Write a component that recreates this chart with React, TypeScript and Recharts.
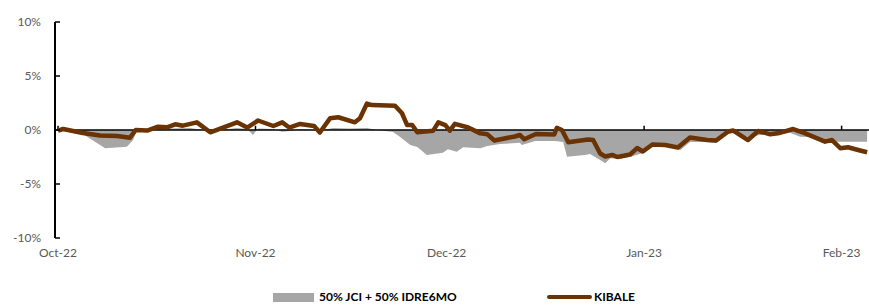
import React from 'react';
import { ComposedChart, Area, Line, XAxis, YAxis, ReferenceLine } from 'recharts';

// x values are calendar days since 1 Oct 2022
const tickDays = [0, 31, 61, 92, 123];
const tickLabels = ['Oct-22', 'Nov-22', 'Dec-22', 'Jan-23', 'Feb-23'];
const yTicks = [-10, -5, 0, 5, 10];
const seriesNames = ['50% JCI + 50% IDRE6MO', 'KIBALE'];

const kibaleDays = [0, 0.8, 3.9, 6.6, 9.3, 11.3, 12.2, 14.0, 15.7, 17.1, 18.4, 19.6, 21.8, 23.9, 28.1, 29.7, 31.4, 33.8, 35.2, 36.3, 38.0, 40.2, 41.1, 42.7, 44.0, 46.6, 47.4, 48.5, 49.3, 52.9, 54.0, 54.8, 55.6, 56.4, 58.9, 59.7, 60.8, 61.5, 62.3, 64.4, 66.3, 67.4, 68.5, 71.7, 72.5, 73.2, 75.0, 77.9, 78.3, 79.1, 80.1, 83.2, 84.0, 85.1, 85.9, 87.0, 87.8, 89.8, 90.9, 91.8, 93.3, 95.3, 97.3, 99.2, 101.9, 103.3, 105.2, 106.0, 108.3, 109.9, 111.8, 113.0, 115.4, 117.0, 120.4, 121.5, 122.8, 124.0, 125.6, 127.0];
const kibaleValues = [-0.05, 0.09, -0.28, -0.51, -0.56, -0.71, 0, -0.05, 0.31, 0.25, 0.53, 0.4, 0.71, -0.21, 0.71, 0.23, 0.88, 0.37, 0.71, 0.23, 0.56, 0.37, -0.23, 1.08, 1.18, 0.71, 1.08, 2.45, 2.31, 2.25, 1.55, 0.46, 0.46, -0.21, -0.06, 0.71, 0.46, -0.06, 0.57, 0.23, -0.31, -0.4, -0.97, -0.6, -0.46, -0.86, -0.37, -0.42, 0.21, 0, -1.14, -0.88, -0.93, -2.18, -2.45, -2.31, -2.5, -2.27, -1.67, -1.99, -1.34, -1.39, -1.62, -0.69, -0.93, -0.97, -0.14, -0.05, -0.93, -0.09, -0.4, -0.31, 0.09, -0.25, -1.08, -0.93, -1.69, -1.6, -1.85, -2.06];

const benchDays = [0, 0.8, 3.9, 6.6, 7.4, 10.8, 11.8, 12.4, 14.4, 17.6, 20.7, 23.9, 28.1, 29.7, 30.6, 31.4, 33.8, 35.2, 36.4, 38.0, 41.1, 43.2, 45.8, 48.5, 50.1, 52.6, 53.7, 55.3, 56.4, 57.9, 60.4, 61.2, 62.6, 63.6, 66.3, 67.4, 69.4, 71.4, 72.5, 72.8, 74.9, 78.0, 79.3, 79.9, 82.7, 83.5, 85.1, 85.9, 86.7, 88.2, 90.3, 91.8, 93.3, 95.3, 97.7, 99.2, 101.9, 103.3, 105.0, 106.0, 108.3, 110.2, 112.6, 114.9, 116.5, 118.1, 120.4, 122.0, 124.3, 127.0];
const benchValues = [0, 0, -0.37, -1.39, -1.69, -1.55, -0.93, 0, 0.05, 0.14, 0.19, -0.1, 0.19, 0.09, -0.46, 0.14, 0.09, -0.16, -0.09, 0.09, -0.05, 0.19, 0.14, 0.19, 0, -0.19, -0.65, -1.39, -1.57, -2.31, -2.1, -1.79, -2.01, -1.6, -1.69, -1.48, -1.3, -1.23, -1.18, -1.39, -1.02, -1.02, -1.11, -2.47, -2.31, -2.22, -2.78, -3.08, -2.62, -2.69, -2.41, -2.13, -1.48, -1.48, -1.85, -1.11, -1.11, -1.2, -0.37, -0.28, -0.65, -0.46, -0.46, -0.25, -0.62, -0.65, -0.93, -1.08, -1.08, -1.08];

const kibaleData = kibaleDays.map((d, i) => ({ d, v: kibaleValues[i] }));
const benchData = benchDays.map((d, i) => ({ d, v: benchValues[i] }));

const FONT = 'Lato, "Open Sans", sans-serif';
const GREY = '#a6a6a6';
const BROWN = '#6b3303';
const LABEL = '#595959';

const YTick = (props: any) => {
  const { x, y, payload } = props;
  const axisX = x + 8;
  return (
    <g>
      <line x1={axisX} x2={axisX + 5} y1={y} y2={y} stroke="#000" strokeWidth={1.5} />
      <text x={x - 6} y={y} dy={4} textAnchor="end" fill={LABEL} fontSize={12} fontFamily={FONT}>
        {`${payload.value}%`}
      </text>
    </g>
  );
};

const xFormat = (v: number) => {
  const i = tickDays.indexOf(v);
  return i >= 0 ? tickLabels[i] : '';
};

export default function App() {
  return (
    <div style={{ position: 'absolute', left: 0, top: 0, width: 869, height: 306, overflow: 'hidden', background: '#fff' }}>
      <ComposedChart width={869} height={290} margin={{ top: 22, right: 0, left: 0, bottom: 22 }}>
        <XAxis
          type="number"
          dataKey="d"
          domain={[-0.47, 127.3]}
          ticks={tickDays}
          tickFormatter={xFormat}
          axisLine={false}
          tickLine={false}
          tickMargin={4}
          height={30}
          allowDataOverflow
          tick={{ fill: LABEL, fontSize: 12, fontFamily: FONT }}
        />
        <YAxis
          type="number"
          domain={[-10, 10]}
          ticks={yTicks}
          width={55}
          axisLine={{ stroke: '#000', strokeWidth: 2 }}
          tickLine={false}
          tick={<YTick />}
          allowDataOverflow
        />
        <Area
          data={benchData}
          dataKey="v"
          type="linear"
          baseValue={0}
          stroke="none"
          fill={GREY}
          fillOpacity={1}
          isAnimationActive={false}
          dot={false}
          activeDot={false}
        />
        <ReferenceLine y={0} stroke="#000" strokeWidth={1.5} />
        {tickDays.map((d) => (
          <ReferenceLine
            key={d}
            segment={[{ x: d, y: 0 }, { x: d, y: 0.4 }]}
            stroke="#000"
            strokeWidth={1.5}
            ifOverflow="visible"
          />
        ))}
        <Line
          data={kibaleData}
          dataKey="v"
          type="linear"
          stroke={BROWN}
          strokeWidth={4.5}
          strokeLinejoin="round"
          dot={false}
          activeDot={false}
          isAnimationActive={false}
        />
      </ComposedChart>
      <div style={{ position: 'absolute', top: 289, left: 0, width: 869, height: 16, fontFamily: FONT, fontWeight: 700, fontSize: 12, lineHeight: '15px', color: '#000' }}>
        <div style={{ position: 'absolute', left: 273, top: 4, width: 41, height: 9, background: GREY }} />
        <div style={{ position: 'absolute', left: 319, top: 0, whiteSpace: 'nowrap' }}>{seriesNames[0]}</div>
        <div style={{ position: 'absolute', left: 547, top: 6, width: 45, height: 4, background: BROWN, borderRadius: 2 }} />
        <div style={{ position: 'absolute', left: 594, top: 0, whiteSpace: 'nowrap' }}>{seriesNames[1]}</div>
      </div>
    </div>
  );
}
